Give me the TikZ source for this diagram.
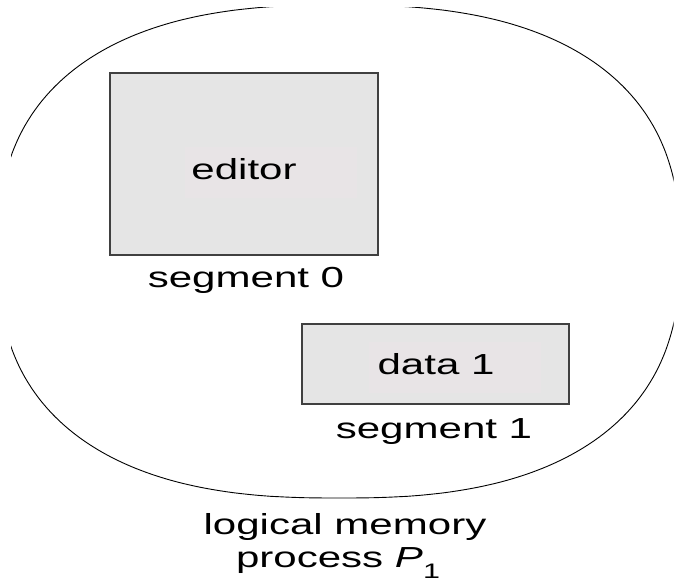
\documentclass[tikz,border=0pt]{standalone}
\usepackage{fontspec}
\usepackage{graphicx}
\setmainfont{Liberation Sans}
\newcommand\wide[1]{\scalebox{1.45}[1]{#1}}
\definecolor{boxfill}{HTML}{E5E5E5}
\definecolor{innerfill}{HTML}{E8E4E6}
\definecolor{boxline}{HTML}{404040}
\tikzset{
  segbox/.style={draw=boxline, line width=1.4pt, fill=boxfill, inner sep=0pt},
  innerbox/.style={fill=innerfill, inner sep=0pt},
  lbl/.style={font=\fontsize{29}{35}\selectfont, inner sep=0pt, anchor=base}
}
\begin{document}
\begin{tikzpicture}[x=1pt,y=-1pt]
\useasboundingbox (0,0) rectangle (674,583);
\begin{scope}
  \clip (11,8) rectangle (673.6,583);
  \draw[line width=0.9pt] plot[domain=0.5:360.5, samples=361, variable=\t]
    ({339+341*sign(cos(\t))*pow(abs(cos(\t)),0.8)},
     {251.5+246.5*sign(sin(\t))*pow(abs(sin(\t)),0.8)}) -- cycle;
\end{scope}
% segment 0
\node[segbox, minimum width=268pt, minimum height=182pt] (seg0) at (244,164) {};
\node[innerbox, minimum width=172pt, minimum height=51pt] (in0) at (271,172.5) {};
\node[lbl] (editor) at (244,179) {\wide{editor}};
\node[lbl] (s0) at (246,287) {\wide{segment 0}};
% segment 1
\node[segbox, minimum width=267pt, minimum height=80pt] (seg1) at (435.5,364) {};
\node[innerbox, minimum width=172pt, minimum height=51pt] (in1) at (455,367.5) {};
\node[lbl] (data) at (436,374) {\wide{data 1}};
\node[lbl] (s1) at (434,438) {\wide{segment 1}};
% caption
\node[lbl] (cap1) at (345,534) {\wide{logical memory}};
\node[lbl] (cap2) at (338,567) {\wide{process \textit{P}\raisebox{-0.38em}{\fontsize{21}{21}\selectfont 1}}};
\end{tikzpicture}
\end{document}
